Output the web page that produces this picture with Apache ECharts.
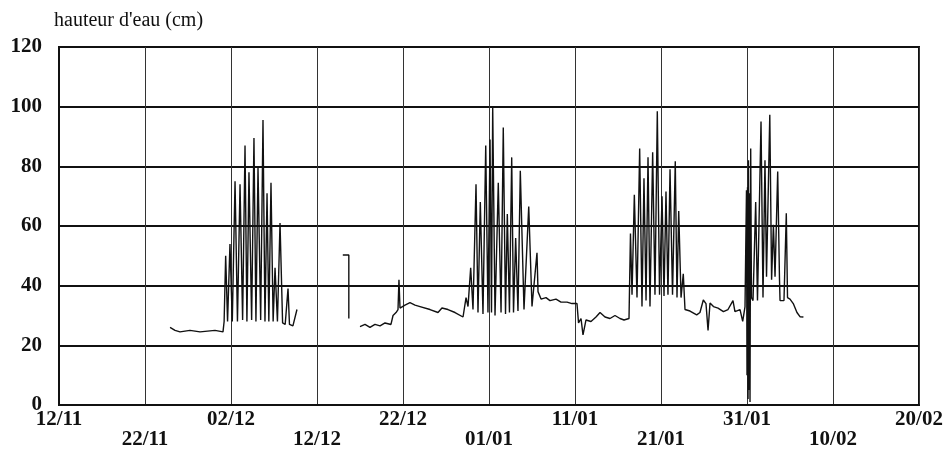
<!DOCTYPE html>
<html>
<head>
<meta charset="utf-8">
<script src="https://cdn.jsdelivr.net/npm/echarts@6/dist/echarts.min.js"></script>
<style>
html,body{margin:0;padding:0;background:#fff;}
#chart{width:947px;height:454px;}
</style>
</head>
<body>
<div id="chart"></div>
<script>
// x = days since 12/11, y = water height (cm)
const xTickLabels = ['12/11','22/11','02/12','12/12','22/12','01/01','11/01','21/01','31/01','10/02','20/02'];
const yTicks = [0,20,40,60,80,100,120];

// segment 1 (late Nov - early Dec)
const seg1Days = [12.91,13.49,14.07,15.23,16.4,18.14,19.07,19.2,19.38,19.6,19.88,20.15,20.47,20.75,21.05,21.35,21.63,21.85,22.09,22.4,22.67,22.9,23.14,23.45,23.72,23.95,24.19,24.4,24.65,24.9,25.12,25.4,25.7,26.0,26.3,26.63,26.8,27.2,27.67];
const seg1Levels = [26,25,24.5,25,24.5,25,24.5,28,50,28,54,28,75,28,74,28.5,87,28,78,28.5,89.5,28,79.5,28.5,95.5,28,71,28,74.5,28,46,28,61,27.5,27,39,27,26.5,32];

// segment 2 (short record mid-Dec)
const seg2Days = [33.0,33.7,33.7];
const seg2Levels = [50.3,50.3,29];

// segment 3 (22/12 onwards)
const seg3Days = [35.0,35.58,36.16,36.74,37.33,37.91,38.6,38.84,39.19,39.42,39.53,39.65,40.23,40.81,41.4,41.98,43.14,44.07,44.53,45.23,46.05,46.98,47.33,47.56,
47.87,48.14,48.49,48.72,48.99,49.3,49.62,49.88,50.12,50.29,50.43,50.7,51.08,51.4,51.66,51.92,52.13,52.38,52.64,52.85,53.1,53.37,53.64,54.07,54.62,55.0,55.58,55.7,
56.05,56.63,57.09,57.79,58.37,59.07,59.65,60.23,60.41,60.7,60.93,61.28,61.86,62.44,62.91,63.49,64.07,64.65,65.23,65.7,66.28,66.34,
66.45,66.63,66.9,67.21,67.52,67.79,68.02,68.26,68.49,68.72,69.03,69.3,69.57,69.83,70.12,70.35,70.58,70.81,71.05,71.34,71.66,71.86,72.06,72.33,72.59,72.79,
73.37,74.15,74.53,74.92,75.23,75.47,75.7,76.1,76.63,77.26,77.79,78.37,78.6,79.19,79.5,79.77,
79.94,80.0,80.06,80.12,80.17,80.23,80.29,80.35,80.43,80.52,80.7,
81.01,81.22,81.4,81.63,81.86,82.09,82.27,82.65,82.86,83.07,83.26,83.57,83.78,83.84,84.3,84.57,84.71,85.0,85.38,85.81,86.16,86.56];
const seg3Levels = [26.3,27,26,27,26.5,27.5,27,30,31,32,42,32.5,33.5,34.3,33.5,33,32,31,32.5,32,31,29.5,36,33,
46,32,74,31,68,30.5,87,31,89,31,100,30,74.5,31,93,30.5,64,31,83,31,56,31.5,78.5,32,66.5,33,51,38,
35.5,36,35,35.5,34.5,34.5,34,34,27.5,29,23.5,28.5,28,29.5,31,29.5,29,30,29,28.5,29,29,
57.5,37,70.5,36,86,33,76,35,83,33,84.7,37,98.5,37,70,36.5,71.6,37,79,37,81.7,36,65,36,44,32,
31.5,30.2,31,35.2,34,25,34.2,33,32.5,31.3,32,35,31.3,32,28,33,
72,10,73,2,82,5,71,1,86,36,35,
68,35,34.5,95,36,82,43,97.3,42,60.4,43,78.3,42,35,35,64.3,36,35.5,34,31,29.6,29.5];

function pairs(d, v){ return d.map((x,i)=>[x, v[i]]); }

const chart = echarts.init(document.getElementById('chart'), null, {renderer:'canvas'});
const serif = '"Liberation Serif","DejaVu Serif",serif';
const lineStyle = {color:'#111', width:1.4};
const mk = (d,v)=>({type:'line', data:pairs(d,v), showSymbol:false, symbol:'none', lineStyle, animation:false, silent:true});

chart.setOption({
  animation:false,
  backgroundColor:'#fff',
  title:{text:"hauteur d'eau (cm)", left:49, top:6, textStyle:{fontFamily:serif, fontSize:20, fontWeight:'normal', color:'#111'}},
  grid:{left:59, right:28, top:47, bottom:49, show:true, borderColor:'#111', borderWidth:2, backgroundColor:'transparent'},
  xAxis:{
    type:'value', min:0, max:100, interval:10,
    axisLine:{show:true, lineStyle:{color:'#111', width:2}},
    axisTick:{show:false},
    splitLine:{show:true, lineStyle:{color:'#333', width:1}},
    axisLabel:{
      show:true, margin:5, showMinLabel:true, showMaxLabel:true, interval:0,
      formatter:function(val){
        const i = Math.round(val/10);
        const s = xTickLabels[i];
        return i % 2 === 0 ? '{a|'+s+'}' : '{a| }\n{a|'+s+'}';
      },
      rich:{a:{fontFamily:serif, fontSize:21, fontWeight:'bold', color:'#111', lineHeight:20}}
    }
  },
  yAxis:{
    type:'value', min:yTicks[0], max:yTicks[yTicks.length-1], interval:20,
    axisLine:{show:true, lineStyle:{color:'#111', width:2}},
    axisTick:{show:false},
    splitLine:{show:true, lineStyle:{color:'#111', width:2}},
    axisLabel:{margin:17, fontFamily:serif, fontSize:21, fontWeight:'bold', color:'#111'}
  },
  series:[mk(seg1Days,seg1Levels), mk(seg2Days,seg2Levels), mk(seg3Days,seg3Levels)]
});
</script>
</body>
</html>
